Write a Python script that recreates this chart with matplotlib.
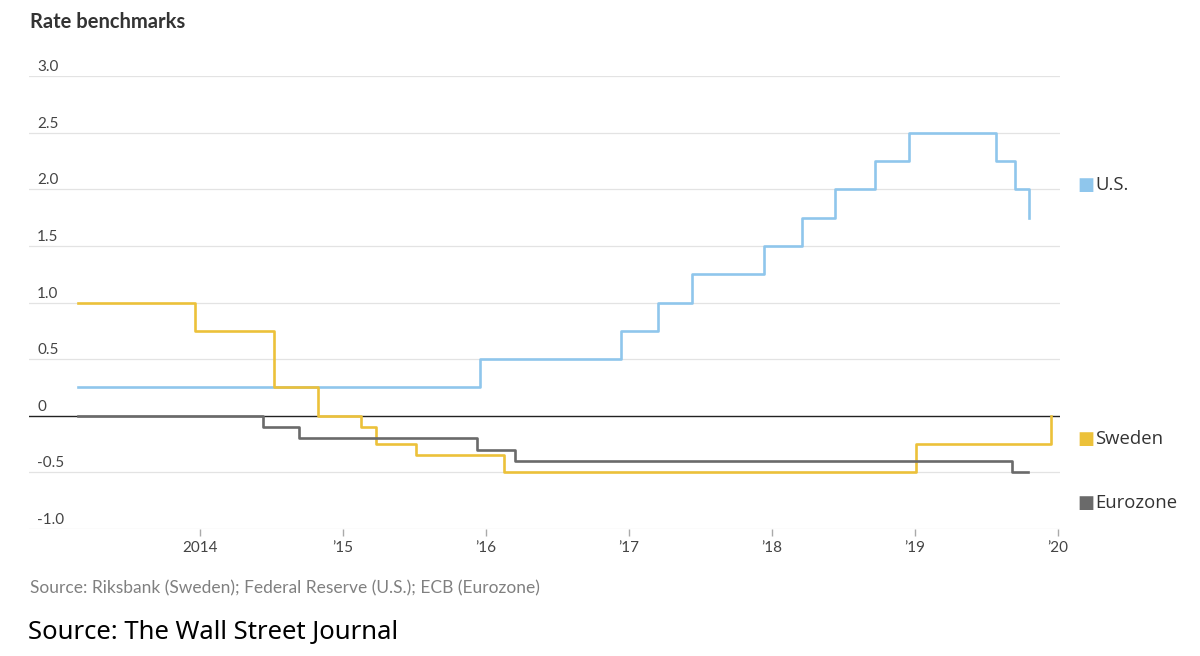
import matplotlib
matplotlib.use("Agg")
import matplotlib.pyplot as plt
import numpy as np

# step change points (decimal years) and the rate that starts there
us_x = [2013.147, 2015.958, 2016.944, 2017.203, 2017.441, 2017.944, 2018.210,
        2018.441, 2018.720, 2018.958, 2019.566, 2019.699, 2019.797]
us_y = [0.25, 0.50, 0.75, 1.00, 1.25, 1.50, 1.75, 2.00, 2.25, 2.50, 2.25, 2.00, 1.75]

se_x = [2013.147, 2013.965, 2014.517, 2014.825, 2015.126, 2015.231, 2015.510,
        2016.126, 2019.007, 2019.951]
se_y = [1.00, 0.75, 0.25, 0.00, -0.10, -0.25, -0.35, -0.50, -0.25, 0.00]

ez_x = [2013.147, 2014.441, 2014.692, 2015.937, 2016.203, 2019.678, 2019.790]
ez_y = [0.00, -0.10, -0.20, -0.30, -0.40, -0.50, -0.50]

year_ticks = [2014, 2015, 2016, 2017, 2018, 2019, 2020]
year_labels = ["2014", "\u201915", "\u201916", "\u201917", "\u201918", "\u201919", "\u201920"]
y_ticks = [3.0, 2.5, 2.0, 1.5, 1.0, 0.5, 0.0, -0.5, -1.0]
y_labels = ["3.0", "2.5", "2.0", "1.5", "1.0", "0.5", "0", "-0.5", "-1.0"]

series = [("U.S.", us_x, us_y, "#8fc6ec", 185),
          ("Sweden", se_x, se_y, "#ecc13a", 439),
          ("Eurozone", ez_x, ez_y, "#6a6a6a", 503)]

plt.rcParams["font.family"] = ["Lato", "DejaVu Sans"]

fig = plt.figure(figsize=(12, 6.56), dpi=100)
ax = fig.add_axes([29 / 1200, 1 - 529 / 656, 1031 / 1200, 453 / 656])

for yt in y_ticks:
    if yt == 0:
        ax.axhline(0, color="#222222", lw=1.0, zorder=3)
    else:
        ax.axhline(yt, color="#e3e3e3", lw=0.9, zorder=1)

for name, xs, ys, col, ly in series:
    ax.plot(xs, ys, drawstyle="steps-post", color=col, lw=1.9, zorder=4)

ax.set_xlim(2012.804, 2020.014)
ax.set_ylim(-1.0, 3.0)
for s in ax.spines.values():
    s.set_visible(False)

ax.set_yticks([])
for yt, lab in zip(y_ticks, y_labels):
    ax.annotate(lab, xy=(0, yt), xycoords=("axes fraction", "data"),
                xytext=(8, 2), textcoords="offset pixels",
                ha="left", va="bottom", fontsize=11, color="#444444")

ax.set_xticks(year_ticks)
ax.set_xticklabels(year_labels)
ax.tick_params(axis="x", length=5, width=1, color="#aaaaaa", pad=4,
               labelsize=11, labelcolor="#444444", direction="out")

# legend labels on the right
for name, xs, ys, col, ly in series:
    fig.text(1077 / 1200, 1 - ly / 656, "\u25a0", color=col, fontsize=13,
             family="DejaVu Sans", ha="left", va="center")
    fig.text(1095 / 1200, 1 - ly / 656, name, color="#333333", fontsize=13.3,
             family="Open Sans", ha="left", va="center")

fig.text(30 / 1200, 1 - 22 / 656, "Rate benchmarks", fontsize=14.5,
         fontweight="bold", color="#333333", ha="left", va="center")
fig.text(30 / 1200, 1 - 588 / 656,
         "Source: Riksbank (Sweden); Federal Reserve (U.S.); ECB (Eurozone)",
         fontsize=12.5, color="#808080", ha="left", va="center")
fig.text(28 / 1200, 1 - 632 / 656, "Source: The Wall Street Journal",
         fontsize=18.5, color="#000000", family="Noto Sans", ha="left", va="center")

fig.savefig("out.png", dpi=100)
